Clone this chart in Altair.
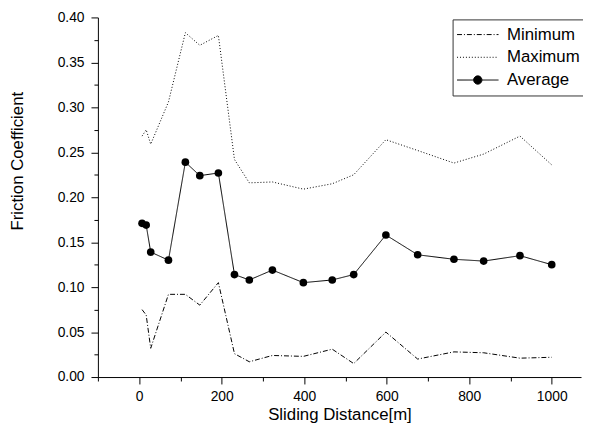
import altair as alt
import pandas as pd

# Sliding distance [m] at which each friction value was recorded
distance = [7, 17, 28, 71, 112, 147, 192, 231, 267, 323, 398, 468, 520, 598, 675, 763, 835, 923, 1000]

minimum = [0.075, 0.069, 0.032, 0.092, 0.092, 0.080, 0.105, 0.026, 0.017, 0.024,
           0.023, 0.031, 0.015, 0.050, 0.020, 0.028, 0.027, 0.021, 0.022]
maximum = [0.268, 0.275, 0.259, 0.306, 0.383, 0.369, 0.380, 0.242, 0.216, 0.217,
           0.209, 0.215, 0.225, 0.264, 0.252, 0.238, 0.248, 0.268, 0.236]
average = [0.171, 0.169, 0.139, 0.130, 0.239, 0.224, 0.227, 0.114, 0.108, 0.119,
           0.105, 0.108, 0.114, 0.158, 0.136, 0.131, 0.129, 0.135, 0.125]

series_names = ["Minimum", "Maximum", "Average"]
x_ticks = [-100, 0, 100, 200, 300, 400, 500, 600, 700, 800, 900, 1000]
y_ticks = [0.0, 0.025, 0.05, 0.075, 0.1, 0.125, 0.15, 0.175, 0.2, 0.225,
           0.25, 0.275, 0.3, 0.325, 0.35, 0.375, 0.4]

rows = []
for name, vals in zip(series_names, [minimum, maximum, average]):
    for d, v in zip(distance, vals):
        rows.append({"series": name, "distance": d, "value": v})
df = pd.DataFrame(rows)

FONT = "Liberation Sans"

x_enc = alt.X(
    "distance:Q",
    scale=alt.Scale(domain=[-100, 1071], nice=False, zero=False),
    axis=alt.Axis(
        values=x_ticks,
        format="d",
        labelExpr="datum.value % 200 === 0 ? datum.label : ''",
        tickSize={"condition": {"test": "datum.value % 200 === 0", "value": 7}, "value": 4},
        labelPadding=6,
        titleBaseline="alphabetic",
        titleY=43,
        titleAlign="center",
    ),
    title="Sliding Distance[m]",
)
y_enc = alt.Y(
    "value:Q",
    scale=alt.Scale(domain=[0, 0.4], nice=False),
    axis=alt.Axis(
        values=y_ticks,
        format=".2f",
        labelExpr="round(datum.value * 1000) % 50 === 0 ? datum.label : ''",
        tickSize={"condition": {"test": "round(datum.value * 1000) % 50 === 0", "value": 7}, "value": 4},
        labelPadding=7,
        titleX=-76,
        titleY=145,
        titleAlign="center",
        titleBaseline="alphabetic",
        titleAngle=270,
    ),
    title="Friction Coefficient",
)

avg_path = ("M-1,0H-0.2M0.2,0H1"
            "M-0.2,0A0.2,0.2,0,1,1,0.2,0A0.2,0.2,0,1,1,-0.2,0Z")

lines = alt.Chart(df).mark_line(color="black", strokeWidth=1).encode(
    x=x_enc,
    y=y_enc,
    strokeDash=alt.StrokeDash(
        "series:N",
        scale=alt.Scale(domain=series_names, range=[[5, 2, 1, 2], [1, 2], [1, 0]]),
        legend=alt.Legend(
            title=None,
            orient="none",
            legendX=359,
            legendY=2,
            symbolSize=1764,
            symbolStrokeWidth=1,
            symbolStrokeColor="black",
            symbolType={"expr": "datum.value === 'Average' ? '" + avg_path + "' : 'stroke'"},
            symbolFillColor={"expr": "datum.value === 'Average' ? 'black' : 'transparent'"},
            labelFont=FONT,
            labelFontSize=17,
            labelColor="black",
            labelOffset=8,
            padding=4,
            rowPadding=0,
            clipHeight=22.7,
            strokeColor="#333333",
            fillColor="white",
        ),
    ),
)

points = alt.Chart(df).transform_filter(
    alt.datum.series == "Average"
).mark_circle(size=60, color="black", opacity=1).encode(x=x_enc, y=y_enc)

chart = alt.layer(lines, points).properties(
    width=489,
    height=364,
    autosize=alt.AutoSizeParams(type="none"),
    padding={"left": 91, "top": 7, "right": 2, "bottom": 47},
).configure_view(stroke=None).configure_axis(
    grid=False,
    domainColor="black",
    domainWidth=1,
    tickColor="black",
    tickWidth=1,
    labelFont=FONT,
    labelFontSize=14,
    labelColor="black",
    titleFont=FONT,
    titleFontSize=17,
    titleFontWeight="normal",
    titleColor="black",
)

chart.save("out.html", embed_options={"renderer": "svg", "actions": False})
